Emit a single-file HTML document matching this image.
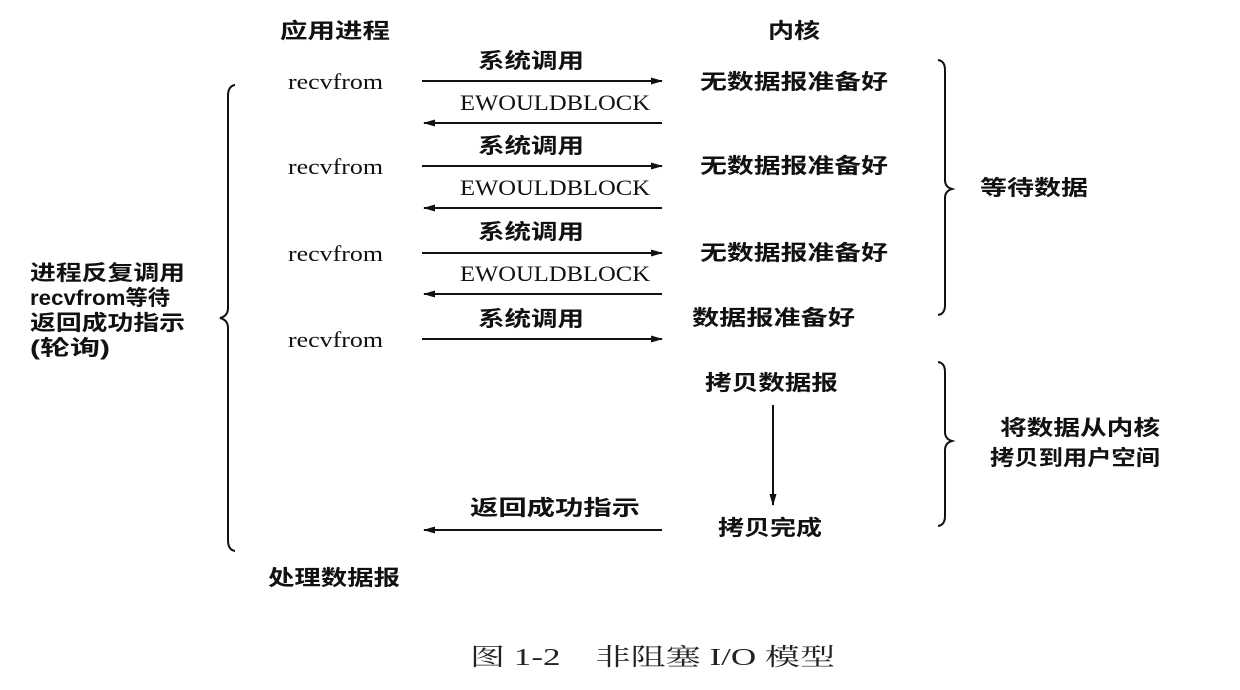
<!DOCTYPE html>
<html><head><meta charset="utf-8"><style>
html,body{margin:0;padding:0;background:#fff;}
svg{display:block}
.cn{font-family:"Liberation Sans","Noto Sans CJK SC",sans-serif;font-weight:bold;font-size:21px;fill:#111}
.en{font-family:"Liberation Serif","Noto Serif CJK SC",serif;font-size:22px;fill:#111}
.cap{font-family:"Liberation Serif","Noto Serif CJK SC",serif;font-size:24px;fill:#222}
</style></head><body>
<svg width="1240" height="690" viewBox="0 0 1240 690" xmlns="http://www.w3.org/2000/svg">
<defs>
<marker id="a" markerWidth="12" markerHeight="8" refX="11" refY="4" orient="auto" markerUnits="userSpaceOnUse">
<path d="M0,0.5 L12,4 L0,7.5 Z" fill="#111"/></marker>
</defs>
<g stroke="#111" stroke-width="2" fill="none">
<line x1="422" y1="81" x2="662" y2="81" marker-end="url(#a)"/>
<line x1="662" y1="123" x2="424" y2="123" marker-end="url(#a)"/>
<line x1="422" y1="166" x2="662" y2="166" marker-end="url(#a)"/>
<line x1="662" y1="208" x2="424" y2="208" marker-end="url(#a)"/>
<line x1="422" y1="253" x2="662" y2="253" marker-end="url(#a)"/>
<line x1="662" y1="294" x2="424" y2="294" marker-end="url(#a)"/>
<line x1="422" y1="339" x2="662" y2="339" marker-end="url(#a)"/>
<line x1="662" y1="530" x2="424" y2="530" marker-end="url(#a)"/>
<line x1="773" y1="405" x2="773" y2="505" marker-end="url(#a)"/>
<path d="M235,85 Q228,86 228,96 L228,308 Q228,316 220,318 Q228,320 228,328 L228,540 Q228,550 235,551"/>
<path d="M938,60 Q945,61 945,70 L945,180 Q945,187 952,189 Q945,191 945,198 L945,305 Q945,314 938,315"/>
<path d="M938,362 Q945,363 945,372 L945,432 Q945,439 952,441 Q945,443 945,450 L945,516 Q945,525 938,526"/>
</g>
<text class="cn" x="280" y="38" textLength="110" lengthAdjust="spacingAndGlyphs">应用进程</text>
<text class="cn" x="768" y="38" textLength="52" lengthAdjust="spacingAndGlyphs">内核</text>
<g class="en">
<text x="288" y="89" textLength="95" lengthAdjust="spacingAndGlyphs">recvfrom</text>
<text x="288" y="174" textLength="95" lengthAdjust="spacingAndGlyphs">recvfrom</text>
<text x="288" y="261" textLength="95" lengthAdjust="spacingAndGlyphs">recvfrom</text>
<text x="288" y="347" textLength="95" lengthAdjust="spacingAndGlyphs">recvfrom</text>
<text x="460" y="110" textLength="190" lengthAdjust="spacingAndGlyphs">EWOULDBLOCK</text>
<text x="460" y="195" textLength="190" lengthAdjust="spacingAndGlyphs">EWOULDBLOCK</text>
<text x="460" y="281" textLength="190" lengthAdjust="spacingAndGlyphs">EWOULDBLOCK</text>
</g>
<g class="cn">
<text x="478" y="68" textLength="106" lengthAdjust="spacingAndGlyphs">系统调用</text>
<text x="478" y="153" textLength="106" lengthAdjust="spacingAndGlyphs">系统调用</text>
<text x="478" y="239" textLength="106" lengthAdjust="spacingAndGlyphs">系统调用</text>
<text x="478" y="326" textLength="106" lengthAdjust="spacingAndGlyphs">系统调用</text>
<text x="700" y="89" textLength="188" lengthAdjust="spacingAndGlyphs">无数据报准备好</text>
<text x="700" y="173" textLength="188" lengthAdjust="spacingAndGlyphs">无数据报准备好</text>
<text x="700" y="260" textLength="188" lengthAdjust="spacingAndGlyphs">无数据报准备好</text>
<text x="692" y="325" textLength="163" lengthAdjust="spacingAndGlyphs">数据报准备好</text>
<text x="705" y="390" textLength="133" lengthAdjust="spacingAndGlyphs">拷贝数据报</text>
<text x="718" y="535" textLength="104" lengthAdjust="spacingAndGlyphs">拷贝完成</text>
<text x="470" y="515" textLength="170" lengthAdjust="spacingAndGlyphs">返回成功指示</text>
<text x="980" y="195" textLength="108" lengthAdjust="spacingAndGlyphs">等待数据</text>
<text x="1000" y="435" textLength="160" lengthAdjust="spacingAndGlyphs">将数据从内核</text>
<text x="990" y="465" textLength="170" lengthAdjust="spacingAndGlyphs">拷贝到用户空间</text>
<text x="268" y="585" textLength="132" lengthAdjust="spacingAndGlyphs">处理数据报</text>
<text x="30" y="280" textLength="155" lengthAdjust="spacingAndGlyphs">进程反复调用</text>
<text x="30" y="305" textLength="140" lengthAdjust="spacingAndGlyphs">recvfrom等待</text>
<text x="30" y="330" textLength="155" lengthAdjust="spacingAndGlyphs">返回成功指示</text>
<text x="30" y="355" textLength="80" lengthAdjust="spacingAndGlyphs">(轮询)</text>
</g>
<text class="cap" x="470" y="665" textLength="365" lengthAdjust="spacingAndGlyphs">图 1-2　非阻塞 I/O 模型</text>
</svg>
</body></html>
